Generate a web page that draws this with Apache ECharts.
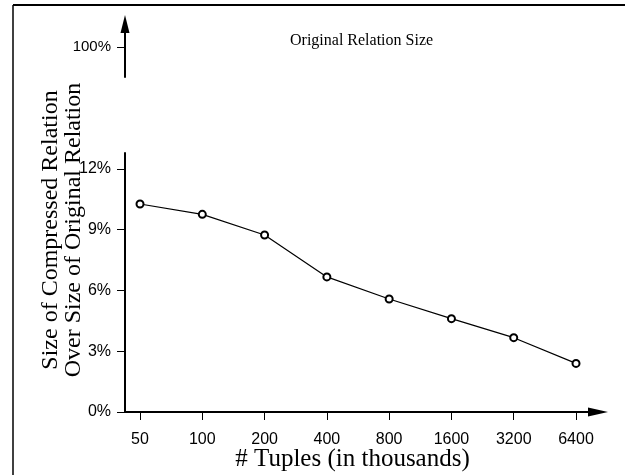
<!DOCTYPE html>
<html>
<head>
<meta charset="utf-8">
<script src="https://cdn.jsdelivr.net/npm/echarts@6/dist/echarts.min.js"></script>
<style>
  html, body { margin: 0; padding: 0; background: #fff; }
  #chart { width: 625px; height: 475px; }
</style>
</head>
<body>
<div id="chart"></div>
<script>
// Relation size after compression, relative to the original size
const tupleCounts = ['50', '100', '200', '400', '800', '1600', '3200', '6400'];
const compressedPct = [10.27, 9.76, 8.74, 6.67, 5.58, 4.61, 3.67, 2.40];
const lowerTicks = [0, 3, 6, 9, 12];
const upperTicks = [100];
const xTicks = tupleCounts.map((_, i) => i);

const INK = '#000';
const sans = '"Liberation Sans", Arial, sans-serif';
const serif = '"Liberation Serif", "Times New Roman", serif';

const chart = echarts.init(document.getElementById('chart'), null, { renderer: 'canvas' });

chart.setOption({
  animation: false,
  backgroundColor: '#fff',
  title: {
    text: 'Original Relation Size',
    left: 290,
    top: 33,
    padding: 0,
    textStyle: { fontFamily: serif, fontSize: 16, fontWeight: 'normal', color: INK }
  },
  grid: [
    { left: 125, right: 27, top: 153, bottom: 63, outerBoundsMode: 'none', containLabel: false },
    { left: 125, right: 27, top: 24, height: 53, outerBoundsMode: 'none', containLabel: false }
  ],
  xAxis: [
    {
      type: 'value',
      gridIndex: 0,
      min: -0.241,
      max: 7.353,
      splitLine: { show: false },
      axisLine: {
        show: true,
        onZero: false,
        symbol: ['none', 'triangle'],
        symbolSize: [9, 20],
        lineStyle: { color: INK, width: 2 }
      },
      axisTick: {
        show: true, customValues: xTicks, length: 8, inside: false,
        lineStyle: { color: INK, width: 1 }
      },
      axisLabel: {
        customValues: xTicks,
        margin: 20,
        color: INK,
        fontFamily: sans,
        fontSize: 16,
        formatter: v => tupleCounts[Math.round(v)]
      },
      name: '# Tuples (in thousands)',
      nameLocation: 'middle',
      nameGap: 35,
      nameMoveOverlap: false,
      nameTextStyle: { fontFamily: serif, fontSize: 25, color: INK, padding: [0, 18, 0, 0] }
    },
    {
      type: 'value',
      gridIndex: 1,
      min: 0,
      max: 1,
      show: false
    }
  ],
  yAxis: [
    {
      type: 'value',
      gridIndex: 0,
      min: 0,
      max: 12.79,
      splitLine: { show: false },
      axisLine: { show: true, onZero: false, lineStyle: { color: INK, width: 2 } },
      axisTick: {
        show: true, customValues: lowerTicks, length: 8,
        lineStyle: { color: INK, width: 1 }
      },
      axisLabel: {
        customValues: lowerTicks,
        margin: 14,
        color: INK,
        fontFamily: sans,
        fontSize: 16,
        formatter: v => v + '%'
      }
    },
    {
      type: 'value',
      gridIndex: 1,
      min: 98,
      max: 101.53,
      splitLine: { show: false },
      axisLine: {
        show: true,
        onZero: false,
        symbol: ['none', 'triangle'],
        symbolSize: [9, 18],
        lineStyle: { color: INK, width: 2 }
      },
      axisTick: {
        show: true, customValues: upperTicks, length: 8,
        lineStyle: { color: INK, width: 1 }
      },
      axisLabel: {
        customValues: upperTicks,
        margin: 14,
        color: INK,
        fontFamily: sans,
        fontSize: 15,
        formatter: v => v + '%'
      }
    }
  ],
  series: [
    {
      type: 'line',
      xAxisIndex: 0,
      yAxisIndex: 0,
      data: compressedPct.map((v, i) => [i, v]),
      symbol: 'circle',
      symbolSize: 7,
      lineStyle: { color: INK, width: 1.2 },
      itemStyle: { color: '#fff', borderColor: INK, borderWidth: 2 },
      z: 3
    }
  ],
  graphic: [
    // figure frame: top and left edges
    { type: 'line', shape: { x1: 13, y1: 5, x2: 625, y2: 5 }, style: { stroke: INK, lineWidth: 2 } },
    { type: 'line', shape: { x1: 13, y1: 5, x2: 13, y2: 475 }, style: { stroke: INK, lineWidth: 1.5 } },
    // two-line vertical axis title
    {
      type: 'text',
      x: 62,
      y: 230,
      rotation: Math.PI / 2,
      style: {
        text: 'Size of Compressed Relation\nOver Size of Original Relation',
        font: '24px ' + serif,
        fill: INK,
        align: 'center',
        verticalAlign: 'middle',
        lineHeight: 23
      }
    }
  ]
});
</script>
</body>
</html>
